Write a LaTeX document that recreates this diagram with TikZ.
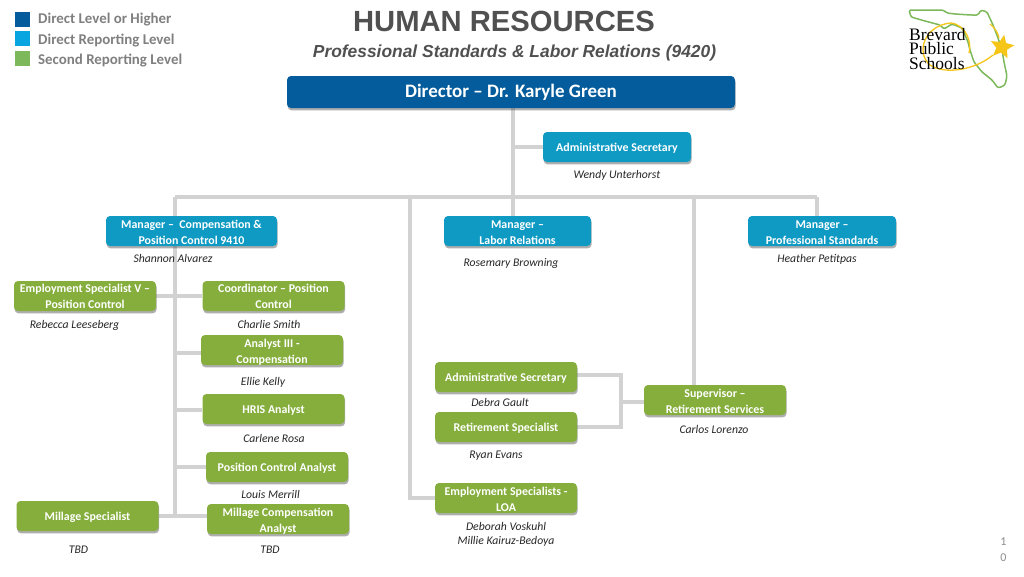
\documentclass[tikz,border=0pt]{standalone}
\usepackage{fontspec}
\setmainfont{Carlito}
\newfontfamily\arialf{Liberation Sans}
\newfontfamily\timesf{Liberation Serif}
\usetikzlibrary{shadows,shapes.geometric,calc}
\definecolor{cdir}{HTML}{045C9C}
\definecolor{cman}{HTML}{0F9AC4}
\definecolor{cgrn}{HTML}{85AE3C}
\definecolor{cline}{HTML}{D2D2D2}
\definecolor{cgray}{HTML}{7F7F7F}
\definecolor{ctitle}{HTML}{505050}
\definecolor{cstar}{HTML}{F5C518}
\definecolor{clogo}{HTML}{7DB95A}
\tikzset{
 x=1pt,y=-1pt,
 boxbase/.style={rounded corners=4pt,inner sep=0pt,align=center,text=white,
   font=\fontsize{11.9}{16}\selectfont\bfseries,
   execute at begin node={\rule{0pt}{10.6pt}},
   drop shadow={shadow xshift=0.6pt,shadow yshift=-2.4pt,opacity=.45,fill=black!70}},
 lowered/.style={text height=28pt,text depth=2pt},
 greenbox/.style={boxbase,fill=cgrn,minimum width=142pt,minimum height=30pt},
 manbox/.style={boxbase,fill=cman,minimum height=30pt},
 dirbox/.style={boxbase,fill=cdir,minimum width=448pt,minimum height=32pt,font=\fontsize{19}{22}\selectfont\bfseries},
 who/.style={inner sep=0pt,align=center,text=black!85,font=\fontsize{11.7}{14}\selectfont\itshape},
 legend/.style={inner sep=0pt,anchor=west,text=cgray,font=\fontsize{14.9}{16}\selectfont\bfseries},
 swatch/.style={inner sep=0pt,minimum width=15pt,minimum height=15pt},
 conn/.style={draw=cline,line width=3.2pt,line join=miter},
 logotext/.style={inner sep=0pt,anchor=west,align=left,text=black,font=\fontsize{17.5}{14.8}\selectfont\timesf},
}
\pgfdeclarelayer{lines}\pgfsetlayers{lines,main}
\begin{document}
\begin{tikzpicture}
\useasboundingbox (0,0) rectangle (1024,576);

% legend
\node[swatch,fill=cdir] (s1) at (22.5,19) {};
\node[swatch,fill=cman!60!cyan!85!blue] (s2) at (22.5,38.5) {};
\node[swatch,fill=clogo] (s3) at (22.5,58.5) {};
\node[legend] (l1) at (38,20) {Direct Level or Higher};
\node[legend] (l2) at (38,41) {Direct Reporting Level};
\node[legend] (l3) at (38,60.5) {Second Reporting Level};

% titles
\node[inner sep=0pt,text=ctitle,font=\fontsize{29.2}{32}\selectfont\arialf\bfseries] (t1) at (504,21) {HUMAN RESOURCES};
\node[inner sep=0pt,text=ctitle,font=\fontsize{17.4}{20}\selectfont\arialf\bfseries\itshape] (t2) at (514.5,52.5) {Professional Standards \& Labor Relations (9420)};

% boxes
\node[dirbox] (dir) at (511,92) {Director – Dr. Karyle Green};
\node[manbox,minimum width=148pt] (sec) at (617,147) {Administrative Secretary};
\node[manbox,minimum width=171pt,lowered] (mc) at (191.5,231) {Manager –\ \ Compensation \&\\Position Control 9410};
\node[manbox,minimum width=147pt,lowered] (ml) at (517.5,231) {Manager –\\Labor Relations};
\node[manbox,minimum width=148pt,lowered] (mp) at (822,231) {Manager –\\Professional Standards};
\node[greenbox] (es) at (85,296) {Employment Specialist V –\\Position Control};
\node[greenbox] (co) at (273.5,296) {Coordinator – Position\\Control};
\node[greenbox,lowered] (an) at (272,350) {Analyst III -\\Compensation};
\node[greenbox] (hr) at (273.5,409) {HRIS Analyst};
\node[greenbox] (pc) at (277,467) {Position Control Analyst};
\node[greenbox,lowered] (mi) at (278,519) {Millage Compensation\\Analyst};
\node[greenbox] (ms) at (87.5,516) {Millage Specialist};
\node[greenbox] (as) at (506,377) {Administrative Secretary};
\node[greenbox] (rs) at (506,427) {Retirement Specialist};
\node[greenbox,lowered] (el) at (506,498) {Employment Specialists -\\LOA};
\node[greenbox,lowered] (su) at (715,400) {Supervisor –\\Retirement Services};

% connectors
\coordinate (hub) at (513,197);
\coordinate (hl) at (175,197);
\coordinate (hm) at (410,197);
\coordinate (hs) at (694,197);
\coordinate (hr2) at (817,197);
\coordinate (vb) at (175,516);
\coordinate (jr) at (621,402);
\coordinate (dtop) at (513,108);
\begin{pgfonlayer}{lines}
\draw[conn] (dtop) -- (hub);
\draw[conn] (dtop |- sec.west) -- (sec.west);
\draw[conn] (hub) -- (ml.north -| hub);
\draw[conn] (hl) -- (hr2);
\draw[conn] (hr2) -- (hr2 |- mp.north);
\draw[conn] (hl) -- (vb);
\draw[conn] (hm) |- (el.west);
\draw[conn] (hs) -- (hs |- su.north);
\draw[conn] (es.east) -- (co.west);
\draw[conn] (175,353) -- (an.west |- 0,353);
\draw[conn] (175,410) -- (hr.west |- 0,410);
\draw[conn] (175,467) -- (pc.west);
\draw[conn] (ms.east) -- (mi.west |- ms.east);
\draw[conn] (as.east |- 0,375) -| (621,427) -- (rs.east |- 0,427);
\draw[conn] (jr) -- (su.west |- jr);
\end{pgfonlayer}

% names
\node[who] (n1) at (617,175.5) {Wendy Unterhorst};
\node[who] (n2) at (173,258.5) {Shannon Alvarez};
\node[who] (n3) at (511,263.5) {Rosemary Browning};
\node[who] (n4) at (817,259.5) {Heather Petitpas};
\node[who] (n5) at (74.5,325) {Rebecca Leeseberg};
\node[who] (n6) at (269,324.5) {Charlie Smith};
\node[who] (n7) at (263,382) {Ellie Kelly};
\node[who] (n8) at (274,438.5) {Carlene Rosa};
\node[who] (n9) at (270.5,494.5) {Louis Merrill};
\node[who] (n10) at (78.5,549.5) {TBD};
\node[who] (n11) at (270,549.5) {TBD};
\node[who] (n12) at (500,402.5) {Debra Gault};
\node[who] (n13) at (496,456) {Ryan Evans};
\node[who,font=\fontsize{11.7}{14.5}\selectfont\itshape] (n14) at (506,534.5) {Deborah Voskuhl\\Millie Kairuz-Bedoya};
\node[who] (n15) at (714,429.5) {Carlos Lorenzo};

% page number
\node[inner sep=0pt,align=center,text=cgray!90,font=\fontsize{12}{15.5}\selectfont] (pg) at (1003.5,549.5) {1\\0};

% logo
\draw[clogo,line width=1.5pt,line join=round,rounded corners=1.5pt]
  (909,10) -- (911,17) -- (925,21) -- (940,25) -- (944,29) -- (952,24) -- (962,28) -- (968,42)
  -- (970,50) -- (974,62) -- (982,72) -- (992,80) -- (998,88) -- (1001,87) -- (1005,85) -- (1007,76)
  -- (1004,62) -- (1002,50) -- (998,38) -- (993,25) -- (987,12) -- (981,10) -- (978,15) -- (971,15)
  -- (955,14) -- (947,13) -- (943,10) -- cycle;
\draw[cstar,line width=1.3pt] (993,55) .. controls (975,70) and (945,75) .. (930,65)
  .. controls (915,52) and (925,25) .. (951,23) .. controls (966,25) and (972,42) .. (969,53);
\draw[cstar,line width=1.2pt] (990,24) .. controls (995,28) and (998,33) .. (999,38);
\node[star,star points=5,star point ratio=2.2,fill=cstar,inner sep=0pt,minimum size=25pt,rotate=-10] (logostar) at (1002,47) {};
\node[logotext] (b1) at (909,49) {Brevard\\Public\\Schools};
\end{tikzpicture}
\end{document}
